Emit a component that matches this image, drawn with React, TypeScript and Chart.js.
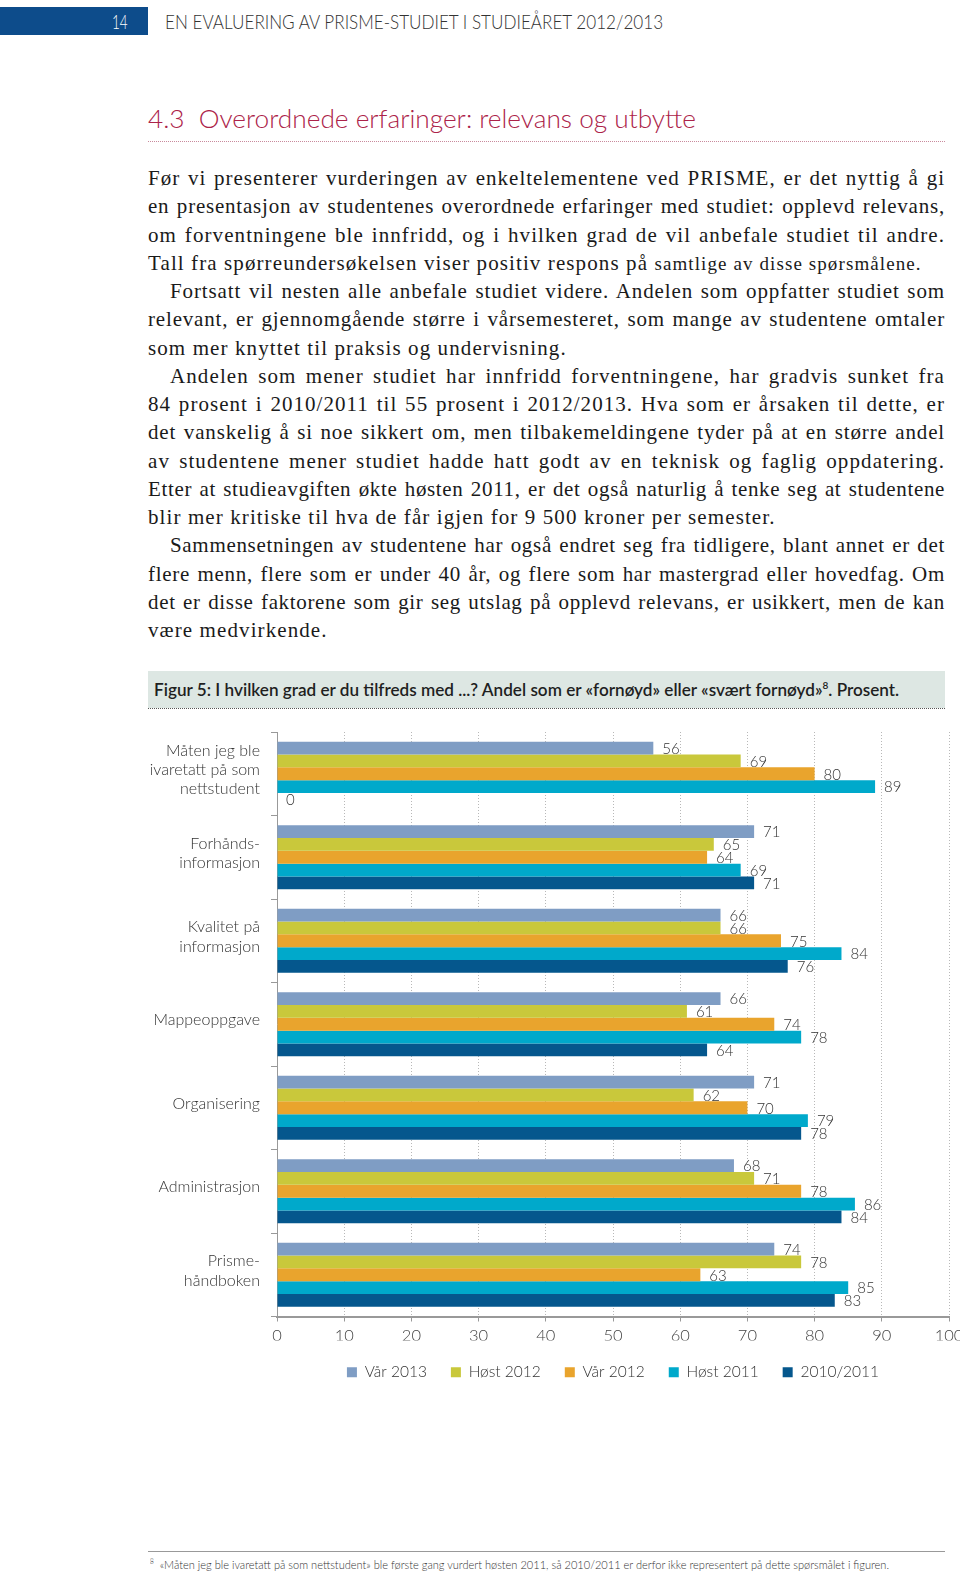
import React, { useEffect, useLayoutEffect, useRef, useState } from "react";
import { Chart, registerables } from "chart.js";

Chart.register(...registerables);

// ---------- data ----------
const categories: (string | string[])[] = [
  ["Måten jeg ble", "ivaretatt på som", "nettstudent"],
  ["Forhånds-", "informasjon"],
  ["Kvalitet på", "informasjon"],
  "Mappeoppgave",
  "Organisering",
  "Administrasjon",
  ["Prisme-", "håndboken"],
];
const seriesNames = ["Vår 2013", "Høst 2012", "Vår 2012", "Høst 2011", "2010/2011"];
const var2013 = [56, 71, 66, 66, 71, 68, 74];
const host2012 = [69, 65, 66, 61, 62, 71, 78];
const var2012 = [80, 64, 75, 74, 70, 78, 63];
const host2011 = [89, 69, 84, 78, 79, 86, 85];
const y20102011 = [0, 71, 76, 64, 78, 84, 83];
const seriesColors = ["#7f9dc4", "#c9c83b", "#e9a42d", "#00a9cb", "#05578d"];
const xMin = 0;
const xMax = 100;
const xStep = 10;

const FONT = "Lato, 'Open Sans', sans-serif";

const valueLabels = {
  id: "valueLabels",
  afterDatasetsDraw(chart: any) {
    const ctx = chart.ctx;
    ctx.save();
    ctx.font = `300 15px ${FONT}`;
    ctx.fillStyle = "#333";
    ctx.textBaseline = "middle";
    ctx.textAlign = "left";
    chart.data.datasets.forEach((ds: any, i: number) => {
      const meta = chart.getDatasetMeta(i);
      meta.data.forEach((bar: any, j: number) => {
        const v = ds.data[j];
        if (v === null || v === undefined) return;
        ctx.fillText(String(v), bar.x + 9, bar.y + 1);
      });
    });
    ctx.restore();
  },
};

function BarChart() {
  const ref = useRef<HTMLCanvasElement>(null);
  useEffect(() => {
    if (!ref.current) return;
    const allSeries = [var2013, host2012, var2012, host2011, y20102011];
    const chart = new Chart(ref.current, {
      type: "bar",
      data: {
        labels: categories,
        datasets: allSeries.map((d, i) => ({
          label: seriesNames[i],
          data: d,
          backgroundColor: seriesColors[i],
          borderWidth: 0,
          barPercentage: 1,
          categoryPercentage: 0.767,
        })),
      },
      options: {
        animation: false,
        responsive: false,
        maintainAspectRatio: false,
        indexAxis: "y",
        layout: { padding: { top: 10, right: 11, left: 0, bottom: 0 } },
        plugins: {
          tooltip: { enabled: false },
          legend: {
            position: "bottom",
            align: "center",
            fullSize: false,
            labels: {
              boxWidth: 10,
              boxHeight: 10,
              padding: 24,
              color: "#333",
              font: { family: FONT, size: 15.5, weight: "300" },
            },
          },
        },
        scales: {
          x: {
            min: xMin,
            max: xMax,
            ticks: {
              stepSize: xStep,
              color: "#444",
              padding: 6,
              font: { family: FONT, size: 16.5, weight: "300", lineHeight: 1 },
            },
            grid: {
              color: "#b8b8b8",
              lineWidth: 1,
              tickLength: 5,
              tickColor: "#999",
              tickBorderDash: [],
            },
            border: { display: true, color: "#999", width: 2, dash: [1, 2] },
            afterFit: (s: any) => {
              s.height = 24;
              s.paddingLeft = 0;
              s.paddingRight = 0;
            },
          },
          y: {
            ticks: {
              color: "#333",
              padding: 11,
              labelOffset: -4,
              font: { family: FONT, size: 16, weight: "300", lineHeight: 1.2 },
            },
            grid: {
              drawOnChartArea: false,
              tickLength: 6,
              color: "#999",
            },
            border: { display: true, color: "#999", width: 1 },
            afterFit: (s: any) => {
              s.width = 147;
              s.paddingTop = 0;
              s.paddingBottom = 0;
            },
          },
        },
      },
      plugins: [valueLabels],
    } as any);
    return () => chart.destroy();
  }, []);
  return (
    <canvas
      ref={ref}
      width={830}
      height={668}
      style={{ position: "absolute", left: 130, top: 722, width: 830, height: 668 }}
    />
  );
}

function Fit({ w, style, children }: { w: number; style?: React.CSSProperties; children: React.ReactNode }) {
  const ref = useRef<HTMLSpanElement>(null);
  const [s, setS] = useState(1);
  useLayoutEffect(() => {
    if (ref.current) {
      const nw = ref.current.offsetWidth;
      if (nw > 0) setS(w / nw);
    }
  }, [w]);
  return (
    <span
      ref={ref}
      style={{
        display: "inline-block",
        whiteSpace: "nowrap",
        transform: `scaleX(${s})`,
        transformOrigin: "left center",
        ...style,
      }}
    >
      {children}
    </span>
  );
}

type Line = { t: React.ReactNode; indent?: boolean; last?: boolean };
const bodyLines: Line[] = [
  { t: "Før vi presenterer vurderingen av enkeltelementene ved PRISME, er det nyttig å gi" },
  { t: "en presentasjon av studentenes overordnede erfaringer med studiet: opplevd relevans," },
  { t: "om forventningene ble innfridd, og i hvilken grad de vil anbefale studiet til andre." },
  {
    t: (
      <>
        Tall fra spørreundersøkelsen viser positiv respons på{" "}
        <span style={{ fontSize: 19 }}>samtlige av disse spørsmålene.</span>
      </>
    ),
    last: true,
  },
  { t: "Fortsatt vil nesten alle anbefale studiet videre. Andelen som oppfatter studiet som", indent: true },
  { t: "relevant, er gjennomgående større i vårsemesteret, som mange av studentene omtaler" },
  { t: "som mer knyttet til praksis og undervisning.", last: true },
  { t: "Andelen som mener studiet har innfridd forventningene, har gradvis sunket fra", indent: true },
  { t: "84 prosent i 2010/2011 til 55 prosent i 2012/2013. Hva som er årsaken til dette, er" },
  { t: "det vanskelig å si noe sikkert om, men tilbakemeldingene tyder på at en større andel" },
  { t: "av studentene mener studiet hadde hatt godt av en teknisk og faglig oppdatering." },
  { t: "Etter at studieavgiften økte høsten 2011, er det også naturlig å tenke seg at studentene" },
  { t: "blir mer kritiske til hva de får igjen for 9 500 kroner per semester.", last: true },
  { t: "Sammensetningen av studentene har også endret seg fra tidligere, blant annet er det", indent: true },
  { t: "flere menn, flere som er under 40 år, og flere som har mastergrad eller hovedfag. Om" },
  { t: "det er disse faktorene som gir seg utslag på opplevd relevans, er usikkert, men de kan" },
  { t: "være medvirkende.", last: true },
];

const BODY_W = 797;
const MAX_LS = 1.1;

function BodyLine({ line }: { line: Line }) {
  const ref = useRef<HTMLSpanElement>(null);
  const [ls, setLs] = useState<number | null>(null);
  useLayoutEffect(() => {
    const el = ref.current;
    if (!el) return;
    const w0 = el.offsetWidth;
    const text = el.textContent || "";
    const n = text.length;
    const spaces = (text.match(/ /g) || []).length;
    const avail = BODY_W - (line.indent ? 22 : 0);
    let v = MAX_LS;
    if (!line.last) v = Math.min(MAX_LS, Math.max(0, (avail - w0 - spaces * 1.5) / n));
    setLs(v);
  }, []);
  const measured = ls !== null;
  const just = measured && !line.last;
  return (
    <div
      style={{
        whiteSpace: "nowrap",
        textAlign: just ? "justify" : "left",
        textAlignLast: just ? "justify" : "left",
        paddingLeft: line.indent ? 22 : 0,
        height: "28.25px",
        letterSpacing: measured ? `${ls}px` : 0,
      }}
    >
      <span ref={ref}>{line.t}</span>
    </div>
  );
}

export default function App() {
  return (
    <div
      style={{
        position: "absolute",
        left: 0,
        top: 0,
        width: 960,
        height: 1575,
        overflow: "hidden",
        background: "#fff",
      }}
    >
      {/* header */}
      <div style={{ position: "absolute", left: 0, top: 7, width: 148, height: 28, background: "#0d4c8b" }} />
      <div style={{ position: "absolute", left: 112, top: 10, font: `300 19.5px ${FONT}`, lineHeight: 1.2, color: "#fff" }}>
        <Fit w={16}>14</Fit>
      </div>
      <div style={{ position: "absolute", left: 165, top: 10, font: `300 19.5px ${FONT}`, lineHeight: 1.2, color: "#333" }}>
        <Fit w={498}>EN EVALUERING AV PRISME-STUDIET I STUDIEÅRET 2012/2013</Fit>
      </div>

      {/* section heading */}
      <div style={{ position: "absolute", left: 148, top: 103, font: `300 25px ${FONT}`, lineHeight: 1.2, color: "#ac2349" }}>
        <Fit w={548}>4.3&nbsp;&nbsp;Overordnede erfaringer: relevans og utbytte</Fit>
      </div>
      <div style={{ position: "absolute", left: 148, top: 141, width: 797, borderTop: "1px dotted #c98a9c" }} />

      {/* body text */}
      <div
        style={{
          position: "absolute",
          left: 148,
          top: 164,
          width: BODY_W,
          fontFamily: "'Liberation Serif', 'DejaVu Serif', serif",
          fontSize: 21,
          lineHeight: "28.25px",
          color: "#1a1a1a",
        }}
      >
        {bodyLines.map((l, i) => (
          <BodyLine key={i} line={l} />
        ))}
      </div>

      {/* figure caption */}
      <div style={{ position: "absolute", left: 148, top: 671, width: 797, height: 37, background: "#dde7e3" }} />
      <div style={{ position: "absolute", left: 154, top: 679, font: `600 17px ${FONT}`, lineHeight: 1.2, color: "#1f1f1f" }}>
        <Fit w={745}>
          Figur 5: I hvilken grad er du tilfreds med ...? Andel som er «fornøyd» eller «svært fornøyd»
          <sup style={{ fontSize: 10 }}>8</sup>. Prosent.
        </Fit>
      </div>
      <div style={{ position: "absolute", left: 148, top: 708, width: 797, borderTop: "1px dotted #555" }} />

      <BarChart />

      {/* footnote */}
      <div style={{ position: "absolute", left: 148, top: 1551, width: 797, borderTop: "1px solid #999" }} />
      <div style={{ position: "absolute", left: 150, top: 1557, font: `300 12px ${FONT}`, lineHeight: 1.2, color: "#333" }}>
        <Fit w={739}>
          <sup style={{ fontSize: 7 }}>8</sup>&nbsp;&nbsp;«Måten jeg ble ivaretatt på som nettstudent» ble første gang vurdert høsten 2011, så
          2010/2011 er derfor ikke representert på dette spørsmålet i figuren.
        </Fit>
      </div>
    </div>
  );
}
